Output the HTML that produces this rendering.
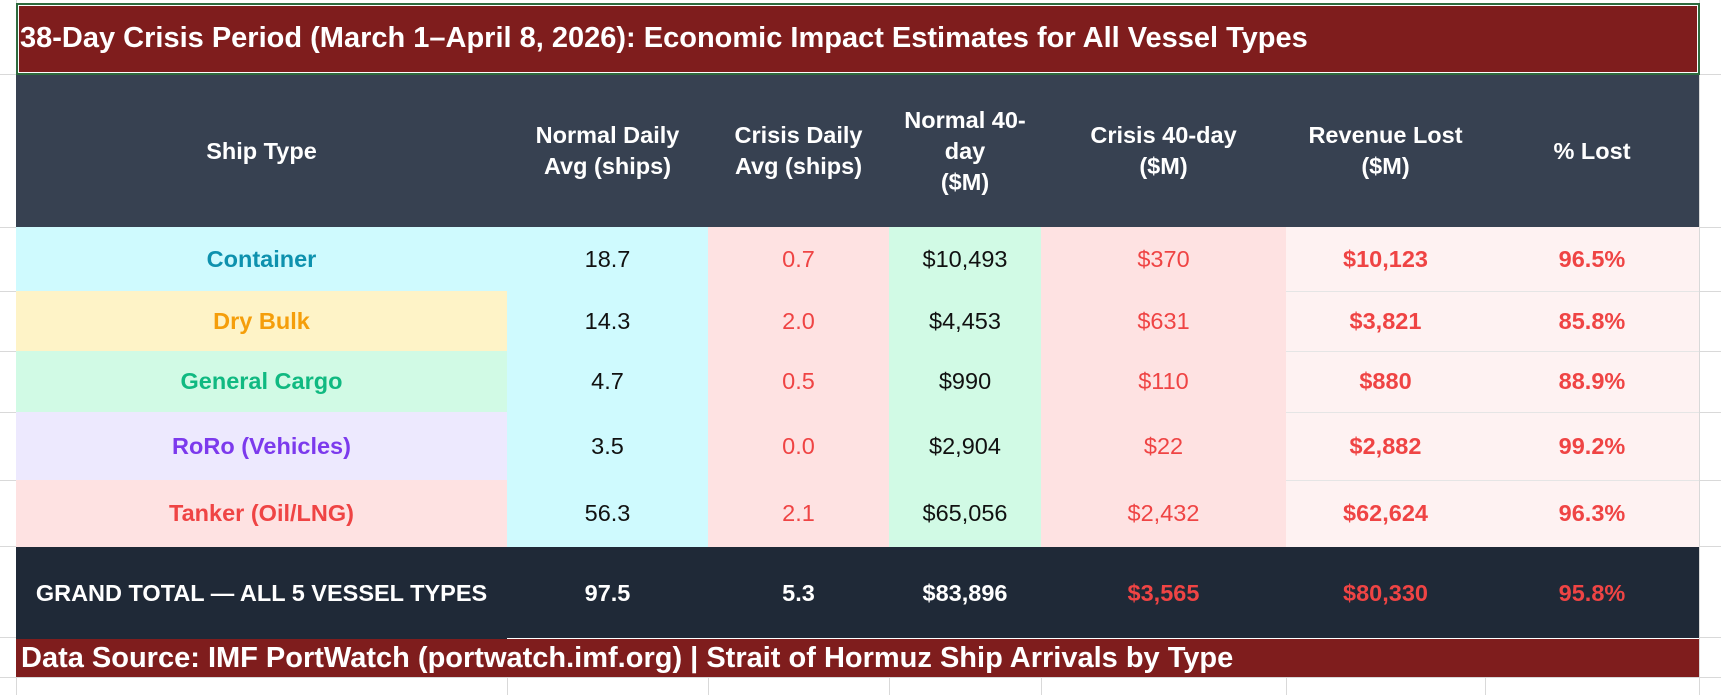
<!DOCTYPE html>
<html><head><meta charset="utf-8"><style>
html,body{margin:0;padding:0;}
body{width:1721px;height:695px;position:relative;background:#fff;overflow:hidden;font-family:"Liberation Sans",Arial,sans-serif;}
.a{position:absolute;box-sizing:border-box;}
.c{position:absolute;box-sizing:border-box;display:flex;align-items:center;justify-content:center;text-align:center;font-size:23.5px;line-height:31px;white-space:nowrap;}
.b{font-weight:bold;}
.gl{position:absolute;background:#d9d9d9;}
</style></head><body>
<div class="gl" style="left:0;top:74px;width:16px;height:1px"></div>
<div class="gl" style="left:0;top:227px;width:1721px;height:1px"></div>
<div class="gl" style="left:0;top:291px;width:1721px;height:1px"></div>
<div class="gl" style="left:0;top:351px;width:1721px;height:1px"></div>
<div class="gl" style="left:0;top:412px;width:1721px;height:1px"></div>
<div class="gl" style="left:0;top:480px;width:1721px;height:1px"></div>
<div class="gl" style="left:0;top:546px;width:1721px;height:1px"></div>
<div class="gl" style="left:0;top:637px;width:1721px;height:1px"></div>
<div class="gl" style="left:0;top:677px;width:1721px;height:1px"></div>
<div class="gl" style="left:1699px;top:74px;width:22px;height:1px"></div>
<div class="gl" style="left:16px;top:0;width:1px;height:695px"></div>
<div class="gl" style="left:507px;top:677px;width:1px;height:18px"></div>
<div class="gl" style="left:708px;top:677px;width:1px;height:18px"></div>
<div class="gl" style="left:889px;top:677px;width:1px;height:18px"></div>
<div class="gl" style="left:1041px;top:677px;width:1px;height:18px"></div>
<div class="gl" style="left:1286px;top:677px;width:1px;height:18px"></div>
<div class="gl" style="left:1485px;top:677px;width:1px;height:18px"></div>
<div class="gl" style="left:1699px;top:0;width:1px;height:695px"></div>

<div class="a" style="left:16px;top:3px;width:1684px;height:72px;background:#7f1d1d;border:2px solid #2e6b3e;box-shadow:inset 0 0 0 1px #fff;"></div>
<div class="a b" style="left:20px;top:21px;color:#fff;font-size:29px;line-height:34px;white-space:nowrap">38-Day Crisis Period (March 1–April 8, 2026): Economic Impact Estimates for All Vessel Types</div>

<div class="a" style="left:16px;top:75px;width:1683px;height:152px;background:#374151"></div>
<div class="c b" style="left:16px;top:75px;width:491px;height:152px;color:#fff">Ship Type</div>
<div class="c b" style="left:507px;top:75px;width:201px;height:152px;color:#fff">Normal Daily<br>Avg (ships)</div>
<div class="c b" style="left:708px;top:75px;width:181px;height:152px;color:#fff">Crisis Daily<br>Avg (ships)</div>
<div class="c b" style="left:889px;top:75px;width:152px;height:152px;color:#fff">Normal 40-<br>day<br>($M)</div>
<div class="c b" style="left:1041px;top:75px;width:245px;height:152px;color:#fff">Crisis 40-day<br>($M)</div>
<div class="c b" style="left:1286px;top:75px;width:199px;height:152px;color:#fff">Revenue Lost<br>($M)</div>
<div class="c b" style="left:1485px;top:75px;width:214px;height:152px;color:#fff">% Lost</div>

<div class="a" style="left:507px;top:227px;width:201px;height:320px;background:#cffafe"></div>
<div class="a" style="left:708px;top:227px;width:181px;height:320px;background:#fee2e2"></div>
<div class="a" style="left:889px;top:227px;width:152px;height:320px;background:#d1fae5"></div>
<div class="a" style="left:1041px;top:227px;width:245px;height:320px;background:#fee2e2"></div>
<div class="a" style="left:1286px;top:227px;width:413px;height:320px;background:#fef2f2"></div>
<div class="gl" style="left:1286px;top:291px;width:413px;height:1px;background:#e5e5e5"></div>
<div class="gl" style="left:1286px;top:351px;width:413px;height:1px;background:#e5e5e5"></div>
<div class="gl" style="left:1286px;top:412px;width:413px;height:1px;background:#e5e5e5"></div>
<div class="gl" style="left:1286px;top:480px;width:413px;height:1px;background:#e5e5e5"></div>

<div class="c b" style="left:16px;top:227px;width:491px;height:64px;background:#cffafe;color:#0e91ae">Container</div>
<div class="c b" style="left:16px;top:291px;width:491px;height:60px;background:#fef3c7;color:#f59e0b">Dry Bulk</div>
<div class="c b" style="left:16px;top:351px;width:491px;height:61px;background:#d1fae5;color:#10b981">General Cargo</div>
<div class="c b" style="left:16px;top:412px;width:491px;height:68px;background:#ede9fe;color:#7c3aed">RoRo (Vehicles)</div>
<div class="c b" style="left:16px;top:480px;width:491px;height:67px;background:#fee2e2;color:#ef4444">Tanker (Oil/LNG)</div>

<div class="c" style="left:507px;top:227px;width:201px;height:64px;color:#111">18.7</div>
<div class="c" style="left:708px;top:227px;width:181px;height:64px;color:#ef4444">0.7</div>
<div class="c" style="left:889px;top:227px;width:152px;height:64px;color:#111">$10,493</div>
<div class="c" style="left:1041px;top:227px;width:245px;height:64px;color:#ef4444">$370</div>
<div class="c b" style="left:1286px;top:227px;width:199px;height:64px;color:#ef4444">$10,123</div>
<div class="c b" style="left:1485px;top:227px;width:214px;height:64px;color:#ef4444">96.5%</div>

<div class="c" style="left:507px;top:291px;width:201px;height:60px;color:#111">14.3</div>
<div class="c" style="left:708px;top:291px;width:181px;height:60px;color:#ef4444">2.0</div>
<div class="c" style="left:889px;top:291px;width:152px;height:60px;color:#111">$4,453</div>
<div class="c" style="left:1041px;top:291px;width:245px;height:60px;color:#ef4444">$631</div>
<div class="c b" style="left:1286px;top:291px;width:199px;height:60px;color:#ef4444">$3,821</div>
<div class="c b" style="left:1485px;top:291px;width:214px;height:60px;color:#ef4444">85.8%</div>

<div class="c" style="left:507px;top:351px;width:201px;height:61px;color:#111">4.7</div>
<div class="c" style="left:708px;top:351px;width:181px;height:61px;color:#ef4444">0.5</div>
<div class="c" style="left:889px;top:351px;width:152px;height:61px;color:#111">$990</div>
<div class="c" style="left:1041px;top:351px;width:245px;height:61px;color:#ef4444">$110</div>
<div class="c b" style="left:1286px;top:351px;width:199px;height:61px;color:#ef4444">$880</div>
<div class="c b" style="left:1485px;top:351px;width:214px;height:61px;color:#ef4444">88.9%</div>

<div class="c" style="left:507px;top:412px;width:201px;height:68px;color:#111">3.5</div>
<div class="c" style="left:708px;top:412px;width:181px;height:68px;color:#ef4444">0.0</div>
<div class="c" style="left:889px;top:412px;width:152px;height:68px;color:#111">$2,904</div>
<div class="c" style="left:1041px;top:412px;width:245px;height:68px;color:#ef4444">$22</div>
<div class="c b" style="left:1286px;top:412px;width:199px;height:68px;color:#ef4444">$2,882</div>
<div class="c b" style="left:1485px;top:412px;width:214px;height:68px;color:#ef4444">99.2%</div>

<div class="c" style="left:507px;top:480px;width:201px;height:67px;color:#111">56.3</div>
<div class="c" style="left:708px;top:480px;width:181px;height:67px;color:#ef4444">2.1</div>
<div class="c" style="left:889px;top:480px;width:152px;height:67px;color:#111">$65,056</div>
<div class="c" style="left:1041px;top:480px;width:245px;height:67px;color:#ef4444">$2,432</div>
<div class="c b" style="left:1286px;top:480px;width:199px;height:67px;color:#ef4444">$62,624</div>
<div class="c b" style="left:1485px;top:480px;width:214px;height:67px;color:#ef4444">96.3%</div>

<div class="a" style="left:16px;top:547px;width:1683px;height:92px;background:#1f2937"></div>
<div class="c b" style="left:16px;top:547px;width:491px;height:92px;color:#fff">GRAND TOTAL — ALL 5 VESSEL TYPES</div>
<div class="c b" style="left:507px;top:547px;width:201px;height:92px;color:#fff">97.5</div>
<div class="c b" style="left:708px;top:547px;width:181px;height:92px;color:#fff">5.3</div>
<div class="c b" style="left:889px;top:547px;width:152px;height:92px;color:#fff">$83,896</div>
<div class="c b" style="left:1041px;top:547px;width:245px;height:92px;color:#ef4444">$3,565</div>
<div class="c b" style="left:1286px;top:547px;width:199px;height:92px;color:#ef4444">$80,330</div>
<div class="c b" style="left:1485px;top:547px;width:214px;height:92px;color:#ef4444">95.8%</div>

<div class="a" style="left:16px;top:639px;width:1683px;height:38px;background:#7f1d1d"></div>
<div class="a" style="left:507px;top:638px;width:1192px;height:1px;background:#fff"></div>
<div class="a b" style="left:21px;top:641px;color:#fff;font-size:29px;line-height:34px;white-space:nowrap">Data Source: IMF PortWatch (portwatch.imf.org) | Strait of Hormuz Ship Arrivals by Type</div>
</body></html>
